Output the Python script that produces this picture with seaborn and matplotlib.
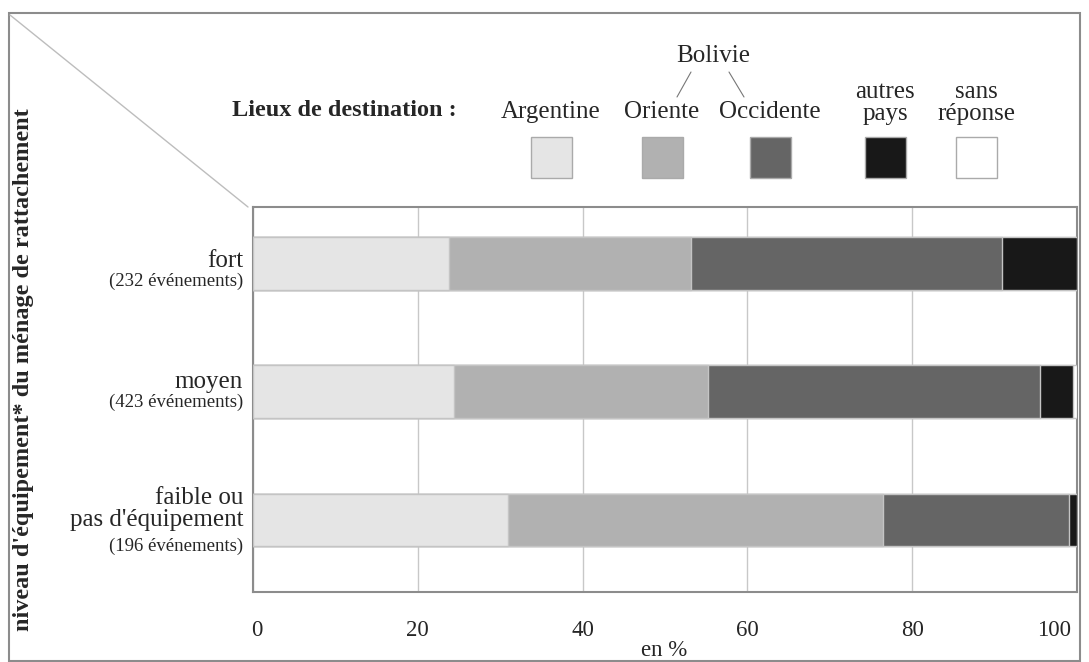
import numpy as np
import pandas as pd
import matplotlib
matplotlib.use("Agg")
import matplotlib.pyplot as plt
import matplotlib.transforms as mtransforms
from matplotlib.patches import Rectangle
from matplotlib.lines import Line2D
import seaborn as sns

# ---- data ----
categories = ["fort", "moyen", "faible"]
cat_labels = ["fort", "moyen", "faible ou\npas d'équipement"]
cat_counts = ["(232 événements)", "(423 événements)", "(196 événements)"]
series = ["Argentine", "Oriente", "Occidente", "autres\npays", "sans\nréponse"]
argentine = [23.8, 24.4, 30.9]
oriente = [29.3, 30.8, 45.6]
occidente = [37.8, 40.3, 22.5]
autres = [9.1, 4.0, 1.0]
sans_rep = [0.0, 0.5, 0.0]
xticks = [0, 20, 40, 60, 80, 100]

colors = ["#e5e5e5", "#b1b1b1", "#656565", "#181818", "#ffffff"]

sns.set_theme(style="white")
plt.rcParams["font.family"] = ["Liberation Serif", "DejaVu Serif"]

W, H = 1089, 662
fig = plt.figure(figsize=(W / 100, H / 100), dpi=100)


def fx(x):
    return x / W


def fy(y):
    return 1 - y / H


ax_l, ax_r, ax_t, ax_b = 253, 1077, 207, 592
ax = fig.add_axes([fx(ax_l), fy(ax_b), fx(ax_r - ax_l), (ax_b - ax_t) / H])

vals = np.array([argentine, oriente, occidente, autres, sans_rep]).T
cum = np.cumsum(vals, axis=1)
cum[:, -1] = 100.0

for i in reversed(range(len(series))):
    df = pd.DataFrame({"cat": categories, "val": cum[:, i]})
    sns.barplot(data=df, x="val", y="cat", order=categories, orient="h",
                color=colors[i], saturation=1, width=0.41,
                edgecolor="#c4c4c4", linewidth=1.0, ax=ax, zorder=3)

d = 0.06
ax.set_xlim(0, 100)
ax.set_ylim(2.5 + d, -0.5 + d)
ax.set_xticks(xticks)
ax.set_xticklabels([str(t) for t in xticks], fontsize=16.5)
ax.tick_params(axis="x", length=0, pad=20)
labels = ax.get_xticklabels()
labels[0].set_transform(labels[0].get_transform() +
                        mtransforms.ScaledTranslation(4 / 100, 0, fig.dpi_scale_trans))
labels[-1].set_transform(labels[-1].get_transform() +
                         mtransforms.ScaledTranslation(-23 / 100, 0, fig.dpi_scale_trans))
ax.set_yticks([-0.5 + d, 0.558, 1.556, 2.5 + d])
ax.set_yticklabels([])
ax.tick_params(axis="y", length=13, width=1, color="#9a9a9a", direction="out")
ax.set_xlabel("")
ax.set_ylabel("")
ax.grid(axis="x", color="#c8c8c8", linewidth=1, zorder=0)
ax.grid(axis="y", visible=False)
ax.set_axisbelow(True)
for s in ax.spines.values():
    s.set_color("#8c8c8c")
    s.set_linewidth(1.5)
    s.set_visible(True)

# category labels
main_y = [261, 382, 509]
sub_y = [281, 402, 546]
for lab, cnt, my, sy in zip(cat_labels, cat_counts, main_y, sub_y):
    fig.text(fx(243), fy(my), lab, ha="right", va="center", fontsize=18,
             linespacing=1.02)
    fig.text(fx(243), fy(sy), cnt, ha="right", va="center", fontsize=13.5)

fig.text(fx(664), fy(650), "en %", ha="center", va="center", fontsize=16.5)

# y axis title
fig.text(fx(24), fy(370), "niveau d'équipement* du ménage de rattachement",
         rotation=90, ha="center", va="center", fontsize=17.5, fontweight="bold")

# outer frame and diagonal
frame = Rectangle((fx(9), fy(661)), fx(1080 - 9), (661 - 13) / H,
                  transform=fig.transFigure, fill=False, edgecolor="#8c8c8c",
                  linewidth=1.5)
fig.add_artist(frame)
fig.add_artist(Line2D([fx(10), fx(248)], [fy(15), fy(207)],
                      transform=fig.transFigure, color="#bdbdbd", linewidth=1))

# legend
fig.text(fx(344), fy(111), "Lieux de destination :", ha="center", va="center",
         fontsize=17.5, fontweight="bold")
leg_cx = [551, 662, 770, 885, 976]
leg_text_y = [112, 112, 112, 103, 103]
sq_w = 41
for name, cx, ty, col in zip(series, leg_cx, leg_text_y, colors):
    fig.text(fx(cx), fy(ty), name, ha="center", va="center", fontsize=18,
             linespacing=0.95)
    fig.add_artist(Rectangle((fx(cx - sq_w / 2), fy(178)), sq_w / W, sq_w / H,
                             transform=fig.transFigure, facecolor=col,
                             edgecolor="#aaaaaa", linewidth=1))
fig.text(fx(713), fy(56), "Bolivie", ha="center", va="center", fontsize=18)
fig.add_artist(Line2D([fx(691), fx(677)], [fy(72), fy(97)],
                      transform=fig.transFigure, color="#777777", linewidth=0.8))
fig.add_artist(Line2D([fx(729), fx(744)], [fy(72), fy(97)],
                      transform=fig.transFigure, color="#777777", linewidth=0.8))

fig.savefig("out.png", dpi=100, facecolor="white")
